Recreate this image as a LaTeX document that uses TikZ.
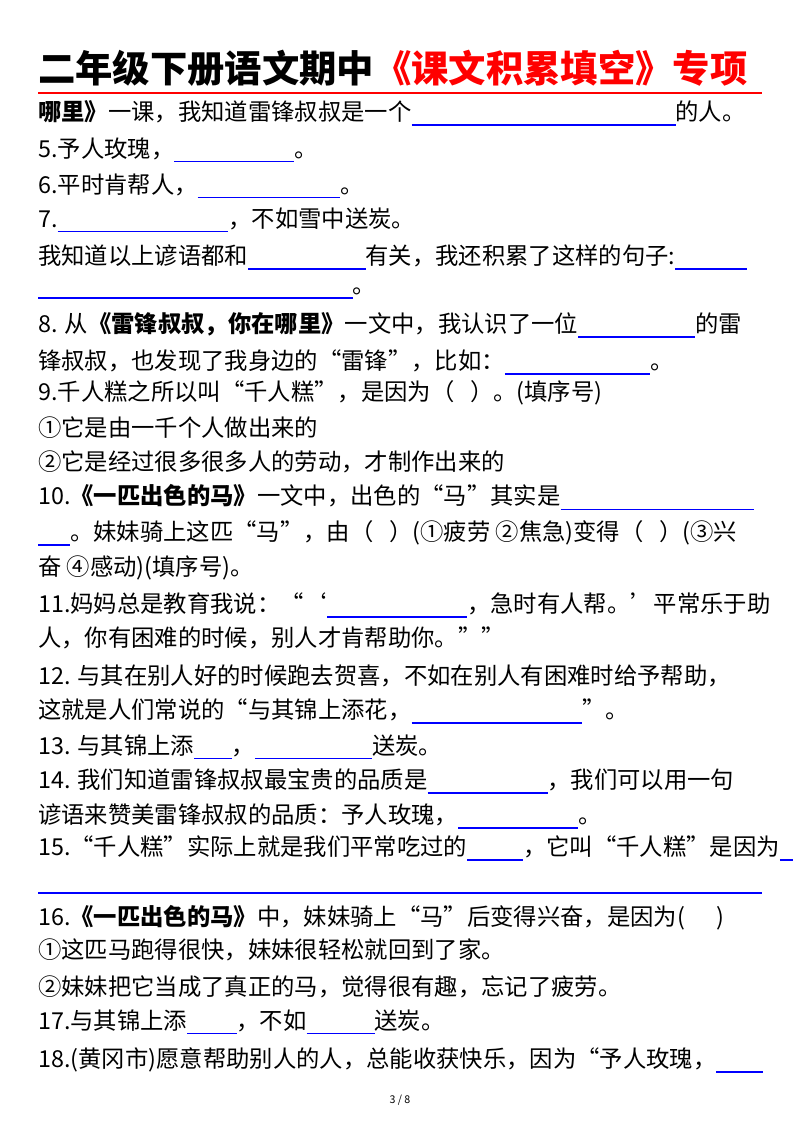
\documentclass[tikz,border=0pt]{standalone}
\usepackage{fontspec}
\setmainfont{Noto Sans CJK SC}
\newcommand\bl[1]{{\color{blue}\rule[-4pt]{#1pt}{0.9pt}}}
\begin{document}
\begin{tikzpicture}[x=0.75pt,y=-0.75pt,
  ln/.style={anchor=west,inner sep=0pt,font=\fontsize{17.5}{20}\selectfont}]
\useasboundingbox[fill=white] (0,0) rectangle (800,1132);
\node[anchor=west,inner sep=0pt,font=\fontsize{28}{32}\selectfont\bfseries] (t) at (38,68) {二年级下册语文期中\textcolor{red}{《课文积累填空》专项}};
\draw[red,line width=1.8pt] (38,93) -- (762,93);
\node[ln] at (38,113) {\textbf{哪里》}一课，我知道雷锋叔叔是一个\bl{198}的人。};
\node[ln] at (38,150) {5.予人玫瑰，\bl{90}。};
\node[ln] at (38,186) {6.平时肯帮人，\bl{107}。};
\node[ln] at (38,220) {7.\bl{128}，不如雪中送炭。};
\node[ln] at (38,257) {我知道以上谚语都和\bl{88}有关，我还积累了这样的句子:\bl{54}};
\node[ln] at (38,293) {\bl{236}。};
\node[ln] at (38,325) {8. 从\textbf{《雷锋叔叔，你在哪里》}一文中，我认识了一位\bl{88}的雷};
\node[ln] at (38,362) {锋叔叔，也发现了我身边的“雷锋”，比如：\bl{109}。};
\node[ln] at (38,393) {9.千人糕之所以叫“千人糕”，是因为（\ \ \ ）。(填序号)};
\node[ln] at (38,428) {①它是由一千个人做出来的};
\node[ln] at (38,462) {②它是经过很多很多人的劳动，才制作出来的};
\node[ln] at (38,497) {10.\textbf{《一匹出色的马》}一文中，出色的“马”其实是\bl{145}};
\node[ln] at (38,533) {\bl{24}。妹妹骑上这匹“马”，由（\ \ \ ）(①疲劳 ②焦急)变得（\ \ \ ）(③兴};
\node[ln] at (38,568) {奋 ④感动)(填序号)。};
\node[ln] at (38,605) {11.妈妈总是教育我说：“‘\bl{105}，急时有人帮。’平常乐于助};
\node[ln] at (38,638) {人，你有困难的时候，别人才肯帮助你。””};
\node[ln] at (38,676) {12. 与其在别人好的时候跑去贺喜，不如在别人有困难时给予帮助，};
\node[ln] at (38,711) {这就是人们常说的“与其锦上添花，\bl{128}”。};
\node[ln] at (38,747) {13. 与其锦上添\bl{28}，\bl{88}送炭。};
\node[ln] at (38,781) {14. 我们知道雷锋叔叔最宝贵的品质是\bl{90}，我们可以用一句};
\node[ln] at (38,816) {谚语来赞美雷锋叔叔的品质：予人玫瑰，\bl{90}。};
\node[ln] at (38,848) {15.“千人糕”实际上就是我们平常吃过的\bl{42}，它叫“千人糕”是因为\bl{10}};
\draw[blue,line width=0.9pt] (38,893) -- (762,893);
\node[ln] at (38,918) {16.\textbf{《一匹出色的马》}中，妹妹骑上“马”后变得兴奋，是因为(\ \ \ \ \ \ )};
\node[ln] at (38,950) {①这匹马跑得很快，妹妹很轻松就回到了家。};
\node[ln] at (38,987) {②妹妹把它当成了真正的马，觉得很有趣，忘记了疲劳。};
\node[ln] at (38,1022) {17.与其锦上添\bl{37}，不如\bl{51}送炭。};
\node[ln] at (38,1060) {18.(黄冈市)愿意帮助别人的人，总能收获快乐，因为“予人玫瑰，\bl{35}};
\node[inner sep=0pt,font=\fontsize{8}{9}\selectfont] at (400,1100) {3 / 8};
\end{tikzpicture}
\end{document}
